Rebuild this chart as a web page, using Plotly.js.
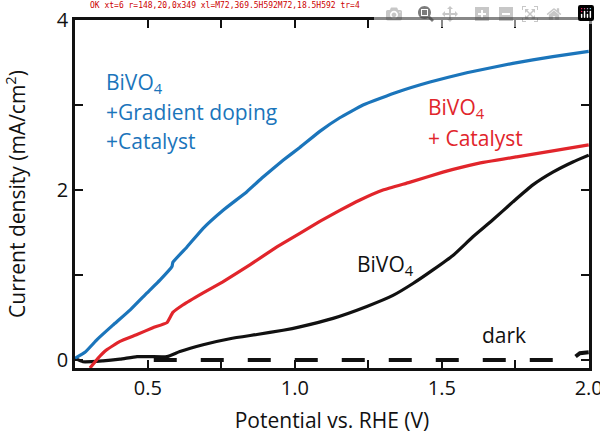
<!DOCTYPE html>
<html><head><meta charset="utf-8">
<script src="https://cdn.plot.ly/plotly-3.0.1.min.js"></script>
<style>body{margin:0;background:#fff}#c{width:600px;height:434px}#d{position:absolute;left:90px;top:1px;font:8px monospace;color:#c00;white-space:nowrap}</style>
</head><body><div id="c"></div><div id="d"></div>
<script>
const blueX = [0.252,0.286,0.327,0.381,0.44,0.497,0.541,0.582,0.585,0.633,0.688,0.755,0.837,0.891,0.96,1.017,1.085,1.153,1.232,1.347,1.46,1.585,1.742,1.878,2.0];
const blueY = [0.02,0.09,0.24,0.41,0.59,0.79,0.94,1.1,1.15,1.33,1.55,1.76,1.98,2.15,2.35,2.5,2.69,2.85,3.0,3.15,3.27,3.38,3.49,3.57,3.63];
const redX = [0.303,0.33,0.36,0.405,0.463,0.517,0.565,0.585,0.62,0.688,0.755,0.847,0.939,1.017,1.085,1.153,1.22,1.3,1.39,1.504,1.62,1.755,1.878,2.0];
const redY = [-0.094,0.02,0.12,0.22,0.3,0.38,0.44,0.56,0.65,0.79,0.92,1.12,1.33,1.49,1.63,1.76,1.88,2.0,2.09,2.21,2.31,2.39,2.46,2.53];
const bareX = [0.252,0.279,0.347,0.405,0.463,0.507,0.565,0.609,0.688,0.779,0.871,0.96,1.017,1.13,1.245,1.334,1.402,1.47,1.538,1.606,1.674,1.742,1.81,1.878,1.946,2.0];
const bareY = [0.02,-0.02,-0.01,0.01,0.04,0.04,0.04,0.1,0.18,0.25,0.3,0.35,0.39,0.49,0.63,0.76,0.9,1.06,1.23,1.45,1.65,1.86,2.06,2.21,2.33,2.41];
const darkX = [0.52,0.9,1.3,1.7,1.94,1.97,2.0];
const darkY = [0.0,0.0,0.0,0.0,0.0,0.08,0.09];
const xTickVals = [0.5,0.75,1.0,1.25,1.5,1.75,2.0];
const xTickText = ['0.5','','1.0','','1.5','','2.0'];
const yTickVals = [0,1,2,3,4];
const yTickText = ['0','','2','','4'];

const BLUE = '#1b75bb', RED = '#e1252b', BLACK = '#111111';
const traces = [
  {x: darkX, y: darkY, mode:'lines', line:{color:BLACK, width:4, dash:'23px,24px'}},
  {x: bareX, y: bareY, mode:'lines', line:{color:BLACK, width:3.2, shape:'spline', smoothing:0.5}},
  {x: redX, y: redY, mode:'lines', line:{color:RED, width:3.2, shape:'spline', smoothing:0.3}},
  {x: blueX, y: blueY, mode:'lines', line:{color:BLUE, width:3.2, shape:'spline', smoothing:0.3}}
];
const ann = (x,y,t,c)=>({x:x,y:y,xref:'paper',yref:'paper',text:t,showarrow:false,xanchor:'left',yanchor:'middle',font:{size:21,color:c}});
function px(xp){return (xp-75)/514;}
function py(yp){return (368-yp)/348;}
const layout = {
  width:600, height:434,
  margin:{l:75, r:11, t:20, b:66},
  showlegend:false,
  font:{size:21, color:'#111'},
  xaxis:{range:[0.252,2.001], tickvals:xTickVals, ticktext:xTickText,
    ticks:'inside', ticklen:8, tickwidth:2, tickcolor:'#111',
    showline:true, linewidth:2.5, linecolor:'#111', mirror:'ticks', showgrid:false,
    ticklabeloverflow:'allow',
    tickfont:{size:20, color:'#111'},
    title:{text:'Potential vs. RHE (V)', font:{size:21, color:'#111'}}},
  yaxis:{range:[-0.094,4.0], tickvals:yTickVals, ticktext:yTickText,
    ticks:'inside', ticklen:8, tickwidth:2, tickcolor:'#111',
    showline:true, linewidth:2.5, linecolor:'#111', mirror:'ticks', showgrid:false, zeroline:false,
    tickfont:{size:20, color:'#111'},
    title:{text:'Current density (mA/cm<sup>2</sup>)', font:{size:21, color:'#111'}}},
  annotations:[
    ann(px(104),py(83),'BiVO<sub>4</sub>',BLUE),
    ann(px(104),py(112),'+Gradient doping',BLUE),
    ann(px(104),py(141),'+Catalyst',BLUE),
    ann(px(426),py(108),'BiVO<sub>4</sub>',RED),
    ann(px(426),py(138),'+ Catalyst',RED),
    ann(px(355),py(265),'BiVO<sub>4</sub>',BLACK),
    ann(px(480),py(335),'dark',BLACK)
  ]
};
const D = document.getElementById('d');
function report(tag){
  const t = document.querySelector('path.xtick');
  const r = t ? t.getBoundingClientRect() : null;
  const xl = document.querySelector('path.xlines-above');
  D.textContent = tag + ' xt=' + document.querySelectorAll('path.xtick').length +
    (r ? ' r=' + Math.round(r.x) + ',' + Math.round(r.y) + ',' + Math.round(r.width) + 'x' + Math.round(r.height) : '') +
    (xl ? ' xl=' + (xl.getAttribute('d') || '').slice(0, 40) : ' noxl') +
    ' tr=' + document.querySelectorAll('g.trace.scatter').length;
}
setTimeout(() => { if (!D.textContent) report('TO'); }, 300);
Plotly.newPlot('c', traces, layout).then(() => report('OK')).catch(e => { D.textContent = 'E ' + e; });
</script></body></html>
